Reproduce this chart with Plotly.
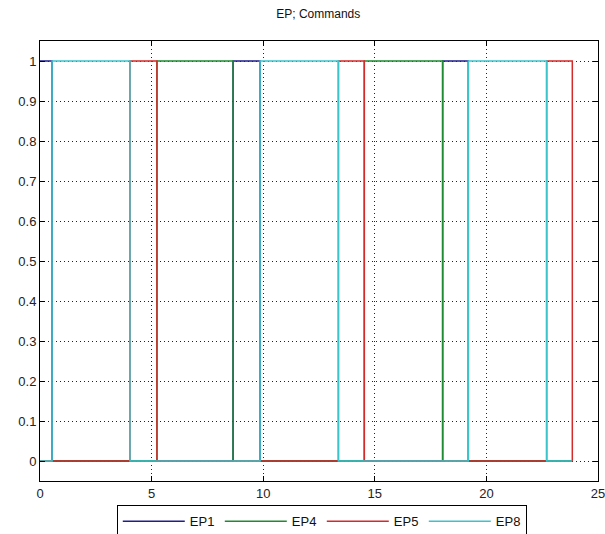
import plotly.graph_objects as go

# Switching times (s) and command states for each EP channel
ep1_t = [0, 0.54, 8.65, 9.86, 18.04, 19.19, 23.85]
ep1_v = [1, 0, 1, 0, 1, 0, 0]

ep4_t = [0, 5.24, 8.65, 14.53, 18.04, 23.85]
ep4_v = [0, 1, 0, 1, 0, 0]

ep5_t = [0, 4.03, 5.24, 13.37, 14.53, 22.70, 23.85]
ep5_v = [0, 1, 0, 1, 0, 1, 0]

ep8_t = [0, 0.54, 4.03, 9.86, 13.37, 19.19, 22.70, 23.85]
ep8_v = [0, 1, 0, 1, 0, 1, 0, 0]

series = [
    ("EP1", ep1_t, ep1_v, "#1f1f8c"),
    ("EP4", ep4_t, ep4_v, "#1e8a32"),
    ("EP5", ep5_t, ep5_v, "#d42a2a"),
    ("EP8", ep8_t, ep8_v, "#3cc4cc"),
]

x_ticks = [0, 5, 10, 15, 20, 25]
y_ticks = [0, 0.1, 0.2, 0.3, 0.4, 0.5, 0.6, 0.7, 0.8, 0.9, 1]
y_tick_text = ["0", "0.1", "0.2", "0.3", "0.4", "0.5", "0.6", "0.7", "0.8", "0.9", "1"]

fig = go.Figure()
for name, t, v, color in series:
    fig.add_trace(go.Scatter(
        x=t, y=v, name=name, mode="lines",
        line=dict(shape="hv", color=color, width=1.5),
    ))

axis_common = dict(
    showline=True, linecolor="black", linewidth=1, mirror="ticks",
    ticks="inside", ticklen=5, tickcolor="black",
    showgrid=True, gridcolor="#222222", gridwidth=1, griddash="1px,3px",
    zeroline=False, ticklabeloverflow="allow",
    tickfont=dict(family="Liberation Sans, Arial, sans-serif", size=13, color="#222222"),
)

fig.update_xaxes(range=[0, 25.001], tickvals=x_ticks, **axis_common)
fig.update_yaxes(range=[-0.05, 1.05], tickvals=y_ticks, ticktext=y_tick_text, **axis_common)

fig.update_layout(
    width=605, height=534,
    margin=dict(l=40, r=7, t=41, b=53, autoexpand=False),
    paper_bgcolor="white", plot_bgcolor="white",
    title=dict(text="EP; Commands", x=0.526, xanchor="center", y=0.975, yanchor="middle",
               font=dict(family="Liberation Sans, Arial, sans-serif", size=12, color="#111111")),
    legend=dict(
        orientation="h", x=0.505, xanchor="center", y=-0.055, yanchor="top",
        bordercolor="black", borderwidth=1, bgcolor="white",
        itemwidth=62, entrywidth=25, entrywidthmode="pixels",
        font=dict(family="Liberation Sans, Arial, sans-serif", size=13, color="#111111"),
    ),
    showlegend=True,
)

fig.write_html("out.html")
